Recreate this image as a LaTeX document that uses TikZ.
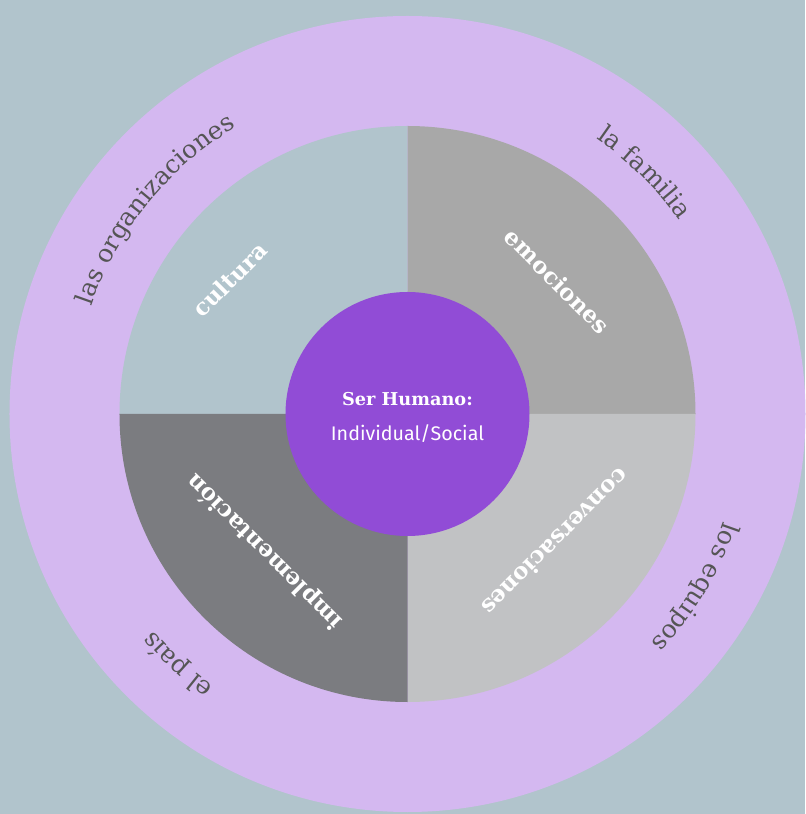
\documentclass[tikz,border=0pt]{standalone}
\usepackage{fontspec}
\setmainfont{DejaVu Serif}
\newfontfamily\sansfam{Fira Sans}
\usetikzlibrary{decorations.text}
\definecolor{mybg}{RGB}{177, 196, 204}
\definecolor{mylilac}{RGB}{212, 184, 240}
\definecolor{mygray}{RGB}{168, 168, 168}
\definecolor{mylightgray}{RGB}{193, 194, 196}
\definecolor{mydarkgray}{RGB}{123, 124, 128}
\definecolor{mypurple}{RGB}{145, 76, 214}
\definecolor{mytext}{RGB}{85, 85, 85}
\newcommand\ringfont{\fontsize{17.8}{20}\selectfont\color{mytext}}
\tikzset{
  quarter/.style={text=white, font=\bfseries\fontsize{16.4}{18}\selectfont},
  ring/.style={decorate, decoration={text along path, text align=center, text={|\ringfont|#1}}}
}

\begin{document}
\begin{tikzpicture}[x=0.025cm, y=0.025cm]
        \def\outer{398}
        \def\inner{288}
        \def\core{122}
        \def\base{334}
        % background
        \fill[mybg] (-407.5,-400) rectangle (397.5,414);
        \useasboundingbox (-407.5,-400) rectangle (397.5,414);

        % Lilac - outer ring
        \fill[mylilac] (0,0) circle (\outer);

        % Blue - cultura
        % Start 90, End 180
        \draw[fill=mybg, draw=none] (0,0) -- (90:\inner) arc (90:180:\inner) -- cycle;

        % Gray - emociones
        % Start 90, End 0
        \draw[fill=mygray, draw=none] (0,0) -- (90:\inner) arc (90:0:\inner) -- cycle;

        % Light gray - conversaciones
        % Start 0, End -90
        \draw[fill=mylightgray, draw=none] (0,0) -- (0:\inner) arc (0:-90:\inner) -- cycle;

        % Dark gray - implementacion
        % Start -90, End -180
        \draw[fill=mydarkgray, draw=none] (0,0) -- (-90:\inner) arc (-90:-180:\inner) -- cycle;

        % Purple - center
        \fill[mypurple] (0,0) circle (\core);
        \node[text=white, font=\bfseries\fontsize{12.6}{14}\selectfont, anchor=base] (humano) at (0,8.5) {Ser Humano:};
        \node[text=white, font=\sansfam\fontsize{14}{16}\selectfont, anchor=base] (social) at (0,-26.5) {Individual/Social};

        % Quarter labels
        \node[quarter, rotate=45] (cultura) at (-177.5,134.5) {cultura};
        \node[quarter, rotate=-45] (emociones) at (150,133) {emociones};
        \node[quarter, rotate=225] (conversaciones) at (148.5,-128.5) {conversaciones};
        \node[quarter, rotate=135] (implementacion) at (-142.5,-137.5) {implementación};

        % Ring labels, clockwise
        \path[ring={las organizaciones}] (181:\base) arc (181:101:\base);
        \path[ring={la familia}] (85.5:\base) arc (85.5:5.5:\base);
        \path[ring={los equipos}] (9:\base) arc (9:-71:\base);
        \path[ring={el país}] (267.5:\base) arc (267.5:187.5:\base);
    \end{tikzpicture}
\end{document}
